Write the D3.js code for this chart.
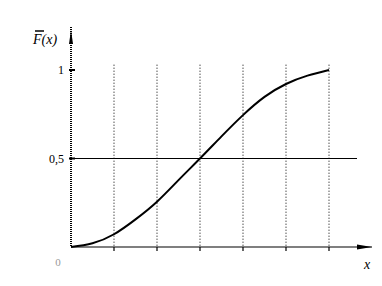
<!DOCTYPE html>
<html>
<head>
<meta charset="utf-8">
<script src="https://cdn.jsdelivr.net/npm/d3@7"></script>
<style>
  body { margin: 0; background: #fff; }
  text { font-family: "Liberation Serif", "DejaVu Serif", serif; fill: #000; }
</style>
</head>
<body>
<div id="chart"></div>
<script>
const xs = [0, 0.5, 1, 1.5, 2, 2.5, 3, 3.5, 4, 4.5, 5, 5.5, 6];
const fx = [0, 0.021, 0.072, 0.156, 0.256, 0.378, 0.5, 0.625, 0.745, 0.848, 0.921, 0.968, 1];
const gridX = [1, 2, 3, 4, 5, 6];
const yTicks = [0.5, 1];
const yTickLabels = ["0,5", "1"];

const width = 382, height = 286;

const x = d3.scaleLinear().domain([0, 6]).range([71, 329]);
const y = d3.scaleLinear().domain([0, 1]).range([247, 70]);

const svg = d3.select("#chart").append("svg")
  .attr("width", width).attr("height", height);

// vertical dotted grid lines
svg.selectAll(".grid").data(gridX).enter().append("line")
  .attr("x1", d => x(d)).attr("x2", d => x(d))
  .attr("y1", y(1.03)).attr("y2", y(0))
  .attr("stroke", "#000").attr("stroke-width", 1)
  .attr("stroke-dasharray", "1,2");

// x ticks
svg.selectAll(".xtick").data(gridX).enter().append("line")
  .attr("x1", d => x(d)).attr("x2", d => x(d))
  .attr("y1", y(0)).attr("y2", y(0) + 4)
  .attr("stroke", "#000").attr("stroke-width", 1.2);

// 0.5 horizontal line
svg.append("line")
  .attr("x1", x(0)).attr("x2", 357)
  .attr("y1", y(0.5)).attr("y2", y(0.5))
  .attr("stroke", "#000").attr("stroke-width", 1);

// x axis
svg.append("line")
  .attr("x1", x(0)).attr("x2", 372)
  .attr("y1", y(0)).attr("y2", y(0))
  .attr("stroke", "#000").attr("stroke-width", 1.2);
svg.append("path")
  .attr("d", `M357,${y(0) - 2.5} L372,${y(0)} L357,${y(0) + 2.5} Z`)
  .attr("fill", "#000");

// y axis
svg.append("line")
  .attr("x1", x(0)).attr("x2", x(0))
  .attr("y1", 27).attr("y2", y(0))
  .attr("stroke", "#000").attr("stroke-width", 2)
  .attr("stroke-dasharray", "1,1");
svg.append("path")
  .attr("d", `M${x(0) - 2},44 L${x(0)},30 L${x(0) + 2},44 Z`)
  .attr("fill", "#000");

// y ticks and labels
svg.selectAll(".ytick").data(yTicks).enter().append("line")
  .attr("x1", x(0) - 2).attr("x2", x(0) + 4)
  .attr("y1", d => y(d)).attr("y2", d => y(d))
  .attr("stroke", "#000").attr("stroke-width", 2);
svg.selectAll(".ylab").data(yTicks).enter().append("text")
  .attr("x", x(0) - 7).attr("y", d => y(d) + 4)
  .attr("text-anchor", "end").attr("font-size", 12)
  .text((d, i) => yTickLabels[i]);

// origin and axis names
svg.append("text").attr("x", 58).attr("y", 266)
  .attr("text-anchor", "middle").attr("font-size", 11)
  .style("fill", "#999").text("0");
svg.append("text").attr("x", 367).attr("y", 269)
  .attr("text-anchor", "middle").attr("font-size", 14)
  .attr("font-style", "italic").text("x");
svg.append("text").attr("x", 33).attr("y", 44)
  .attr("font-size", 14).attr("font-style", "italic").text("F(x)");
svg.append("line").attr("x1", 35).attr("x2", 44).attr("y1", 31).attr("y2", 31)
  .attr("stroke", "#000").attr("stroke-width", 1.5);

// curve
const pts = xs.map((d, i) => [d, fx[i]]);
const line = d3.line().x(d => x(d[0])).y(d => y(d[1])).curve(d3.curveNatural);
svg.append("path").datum(pts).attr("d", line)
  .attr("fill", "none").attr("stroke", "#000").attr("stroke-width", 2);
</script>
</body>
</html>
